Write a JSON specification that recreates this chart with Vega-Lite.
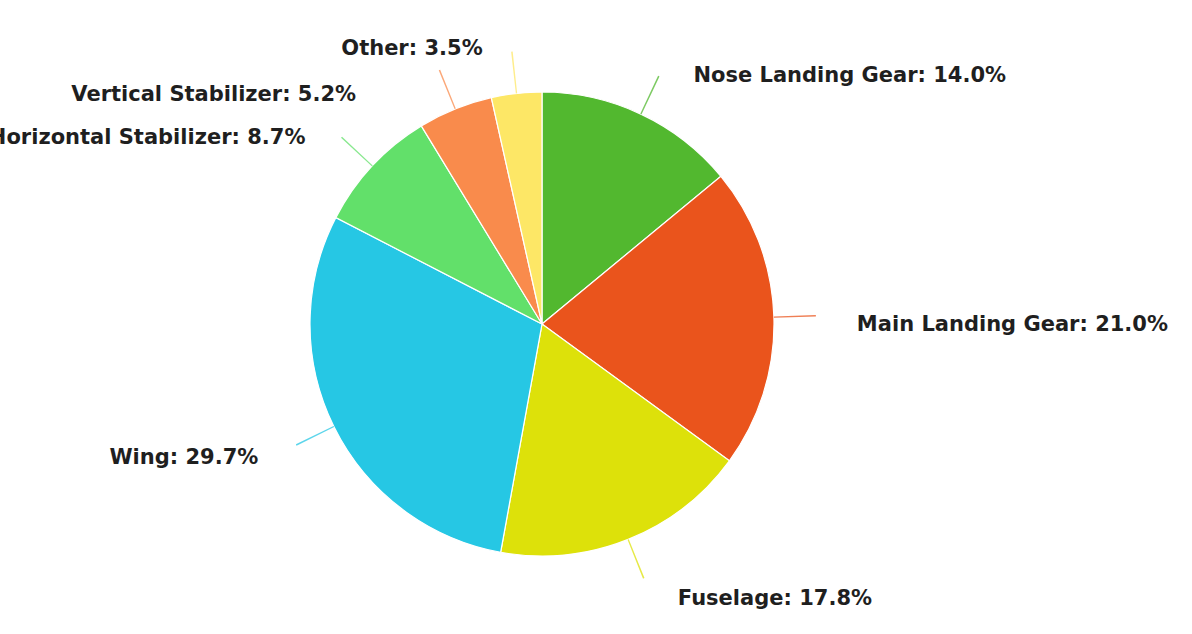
{
  "$schema": "https://vega.github.io/schema/vega-lite/v6.json",
  "width": 1084,
  "height": 620,
  "autosize": {"type": "none"},
  "padding": {"left": 0, "top": 14, "right": 108, "bottom": 0},
  "background": "white",
  "view": {"stroke": null},
  "data": {
    "values": [
      {"part": "Nose Landing Gear", "value": 14.0},
      {"part": "Main Landing Gear", "value": 21.0},
      {"part": "Fuselage", "value": 17.8},
      {"part": "Wing", "value": 29.7},
      {"part": "Horizontal Stabilizer", "value": 8.7},
      {"part": "Vertical Stabilizer", "value": 5.2},
      {"part": "Other", "value": 3.5}
    ]
  },
  "transform": [
    {"window": [{"op": "sum", "field": "value", "as": "cum"}], "frame": [null, 0]},
    {"calculate": "datum.cum - datum.value", "as": "start"},
    {"calculate": "datum.cum - datum.value / 2", "as": "mid"},
    {"calculate": "datum.mid - 0.045", "as": "a0"},
    {"calculate": "datum.mid + 0.045", "as": "a1"},
    {"calculate": "datum.mid >= 49.95 ? 'L' : 'R'", "as": "side"},
    {"calculate": "-285 * cos(2 * PI * datum.mid / 99.9)", "as": "ly"},
    {"window": [{"op": "lag", "field": "ly", "as": "prevy"}], "sort": [{"field": "mid", "order": "descending"}], "groupby": ["side"]},
    {"calculate": "datum.side == 'L' && isValid(datum.prevy) ? max(datum.ly, datum.prevy + 46) : datum.ly", "as": "ly2"},
    {"calculate": "datum.side == 'L' ? 99.9 * (1 - acos(-datum.ly2 / 285) / (2 * PI)) : datum.mid", "as": "lt"},
    {"calculate": "datum.part + ': ' + format(datum.value, '.1f') + '%'", "as": "label"}
  ],
  "layer": [
    {
      "mark": {"type": "arc", "outerRadius": 232, "stroke": "#ffffff", "strokeWidth": 1.2},
      "encoding": {
        "theta": {"field": "start", "type": "quantitative", "scale": {"domain": [0, 99.9], "nice": false, "zero": true}, "stack": null},
        "theta2": {"field": "cum"},
        "color": {
          "field": "part", "type": "nominal", "legend": null,
          "scale": {
            "domain": ["Nose Landing Gear", "Main Landing Gear", "Fuselage", "Wing", "Horizontal Stabilizer", "Vertical Stabilizer", "Other"],
            "range": ["#52b82f", "#ea541c", "#dde10a", "#26c7e4", "#62e06a", "#f98b4c", "#fde766"]
          }
        }
      }
    },
    {
      "mark": {"type": "arc", "innerRadius": 232, "outerRadius": 274, "opacity": 0.75},
      "encoding": {
        "theta": {"field": "a0", "type": "quantitative", "scale": {"domain": [0, 99.9], "nice": false, "zero": true}, "stack": null},
        "theta2": {"field": "a1"},
        "color": {"field": "part", "type": "nominal", "legend": null}
      }
    },
    {
      "transform": [{"filter": "datum.side == 'R'"}],
      "mark": {"type": "text", "radius": 285, "align": "left", "baseline": "middle", "dx": 30, "dy": 10, "font": "DejaVu Sans", "fontWeight": "bold", "fontSize": 21, "color": "#1f1f1f"},
      "encoding": {
        "theta": {"field": "lt", "type": "quantitative", "scale": {"domain": [0, 99.9], "nice": false, "zero": true}, "stack": null},
        "text": {"field": "label"}
      }
    },
    {
      "transform": [{"filter": "datum.side == 'L'"}],
      "mark": {"type": "text", "radius": 285, "align": "right", "baseline": "middle", "dx": -28, "dy": 8, "font": "DejaVu Sans", "fontWeight": "bold", "fontSize": 21, "color": "#1f1f1f"},
      "encoding": {
        "theta": {"field": "lt", "type": "quantitative", "scale": {"domain": [0, 99.9], "nice": false, "zero": true}, "stack": null},
        "text": {"field": "label"}
      }
    }
  ]
}
